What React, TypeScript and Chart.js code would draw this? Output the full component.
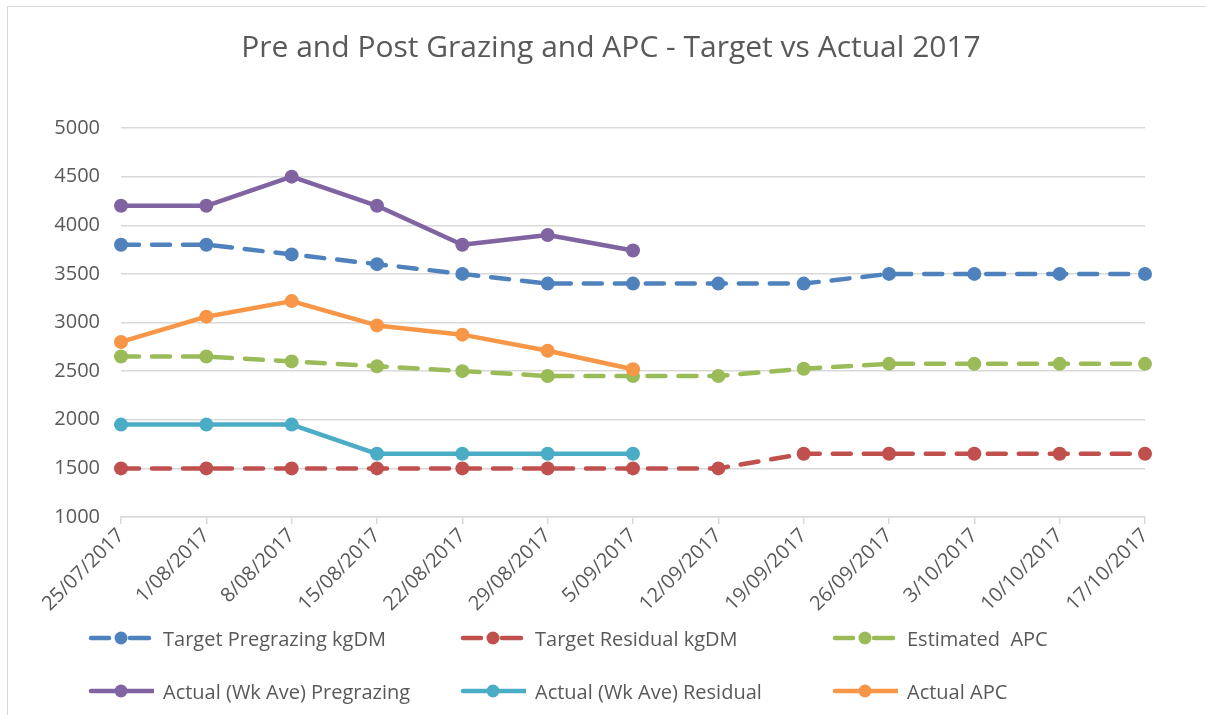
import React, { useEffect, useRef } from "react";
import { Chart, registerables } from "chart.js";

Chart.register(...registerables);

const dates = [
  "25/07/2017", "1/08/2017", "8/08/2017", "15/08/2017", "22/08/2017", "29/08/2017", "5/09/2017",
  "12/09/2017", "19/09/2017", "26/09/2017", "3/10/2017", "10/10/2017", "17/10/2017",
];

const targetPregrazing = [3800, 3800, 3700, 3600, 3500, 3400, 3400, 3400, 3400, 3500, 3500, 3500, 3500];
const targetResidual = [1500, 1500, 1500, 1500, 1500, 1500, 1500, 1500, 1650, 1650, 1650, 1650, 1650];
const estimatedAPC = [2650, 2650, 2600, 2550, 2500, 2450, 2450, 2450, 2525, 2575, 2575, 2575, 2575];
const actualPregrazing = [4200, 4200, 4500, 4200, 3800, 3900, 3740, null, null, null, null, null, null];
const actualResidual = [1950, 1950, 1950, 1650, 1650, 1650, 1650, null, null, null, null, null, null];
const actualAPC = [2800, 3060, 3220, 2970, 2875, 2710, 2520, null, null, null, null, null, null];

const yTicks = [1000, 1500, 2000, 2500, 3000, 3500, 4000, 4500, 5000];

const TITLE = "Pre and Post Grazing and APC - Target vs Actual 2017";
const FONT = "'Open Sans', 'Noto Sans', sans-serif";
const TEXT = "#595959";
const GRID = "#d9d9d9";

const series = [
  { label: "Target Pregrazing kgDM", data: targetPregrazing, color: "#4f81bd", dashed: true },
  { label: "Target Residual kgDM", data: targetResidual, color: "#c0504d", dashed: true },
  { label: "Estimated  APC", data: estimatedAPC, color: "#9bbb59", dashed: true },
  { label: "Actual (Wk Ave) Pregrazing", data: actualPregrazing, color: "#8064a2", dashed: false },
  { label: "Actual (Wk Ave) Residual", data: actualResidual, color: "#4bacc6", dashed: false },
  { label: "Actual APC", data: actualAPC, color: "#f79646", dashed: false },
];

function LegendSymbol({ color, dashed }: { color: string; dashed: boolean }) {
  return (
    <svg width={66} height={16} style={{ display: "block" }}>
      {dashed ? (
        <>
          <line x1={3} y1={8} x2={21} y2={8} stroke={color} strokeWidth={4.5} strokeLinecap="round" />
          <line x1={42} y1={8} x2={61} y2={8} stroke={color} strokeWidth={4.5} strokeLinecap="round" />
        </>
      ) : (
        <line x1={3} y1={8} x2={66} y2={8} stroke={color} strokeWidth={4.5} strokeLinecap="round" />
      )}
      <circle cx={33} cy={8} r={6.5} fill={color} />
    </svg>
  );
}

export default function App() {
  const ref = useRef<HTMLCanvasElement>(null);

  useEffect(() => {
    if (!ref.current) return;
    const chart = new Chart(ref.current, {
      type: "line",
      data: {
        labels: dates,
        datasets: series.map((s, i) => ({
          label: s.label,
          data: s.data,
          borderColor: s.color,
          backgroundColor: s.color,
          borderWidth: 4.5,
          borderDash: s.dashed ? [18, 13] : [],
          borderCapStyle: "round" as const,
          borderJoinStyle: "round" as const,
          pointRadius: 7,
          pointBackgroundColor: s.color,
          pointBorderColor: s.color,
          pointBorderWidth: 0,
          pointHoverRadius: 7,
          fill: false,
          tension: 0,
          spanGaps: false,
          order: series.length - i,
        })),
      },
      options: {
        responsive: false,
        maintainAspectRatio: false,
        animation: false,
        events: [],
        layout: { padding: { left: 0, right: 61, top: 128, bottom: 0 } },
        plugins: {
          legend: { display: false },
          tooltip: { enabled: false },
          title: { display: false },
        },
        scales: {
          x: {
            offset: false,
            grid: {
              drawOnChartArea: false,
              drawTicks: true,
              tickLength: 7,
              color: GRID,
              lineWidth: 1.5,
            },
            border: { display: true, color: GRID, width: 1.5 },
            ticks: {
              autoSkip: false,
              minRotation: 45,
              maxRotation: 45,
              color: TEXT,
              font: { family: FONT, size: 20 },
              padding: 0,
            },
            afterFit: (s: any) => {
              s.height = 198;
            },
          },
          y: {
            min: yTicks[0],
            max: yTicks[yTicks.length - 1],
            afterBuildTicks: (s: any) => {
              s.ticks = yTicks.map((v) => ({ value: v }));
            },
            ticks: {
              color: TEXT,
              font: { family: FONT, size: 20 },
              padding: 21,
              callback: (v: any) => String(v),
            },
            grid: { color: GRID, lineWidth: 1.5, drawTicks: false },
            border: { display: false },
            afterFit: (s: any) => {
              s.width = 121;
            },
          },
        },
      },
    });
    return () => chart.destroy();
  }, []);

  const rows = [series.slice(0, 3), series.slice(3, 6)];
  const rowY = [638, 691];
  const colX = [88, 460, 832];

  return (
    <div
      style={{
        position: "fixed",
        left: 0,
        top: 0,
        width: 1206,
        height: 715,
        overflow: "hidden",
        background: "#fff",
      }}
    >
      <div
        style={{
          position: "absolute",
          left: 7,
          top: 6,
          width: 1220,
          height: 740,
          border: `1.5px solid ${GRID}`,
          boxSizing: "border-box",
        }}
      />
      <canvas ref={ref} width={1206} height={715} style={{ position: "absolute", left: 0, top: 0 }} />
      <div
        style={{
          position: "absolute",
          left: 11,
          top: 31,
          width: 1200,
          height: 30,
          lineHeight: "30px",
          textAlign: "center",
          fontFamily: FONT,
          fontSize: 30,
          color: TEXT,
          whiteSpace: "pre",
        }}
      >
        {TITLE}
      </div>
      {rows.map((row, r) =>
        row.map((s, c) => (
          <div
            key={s.label}
            style={{
              position: "absolute",
              left: colX[c],
              top: rowY[r] - 14,
              height: 28,
              display: "flex",
              alignItems: "center",
              fontFamily: FONT,
              fontSize: 20,
              color: TEXT,
              whiteSpace: "pre",
            }}
          >
            <LegendSymbol color={s.color} dashed={s.dashed} />
            <span style={{ marginLeft: 9 }}>{s.label}</span>
          </div>
        ))
      )}
    </div>
  );
}
